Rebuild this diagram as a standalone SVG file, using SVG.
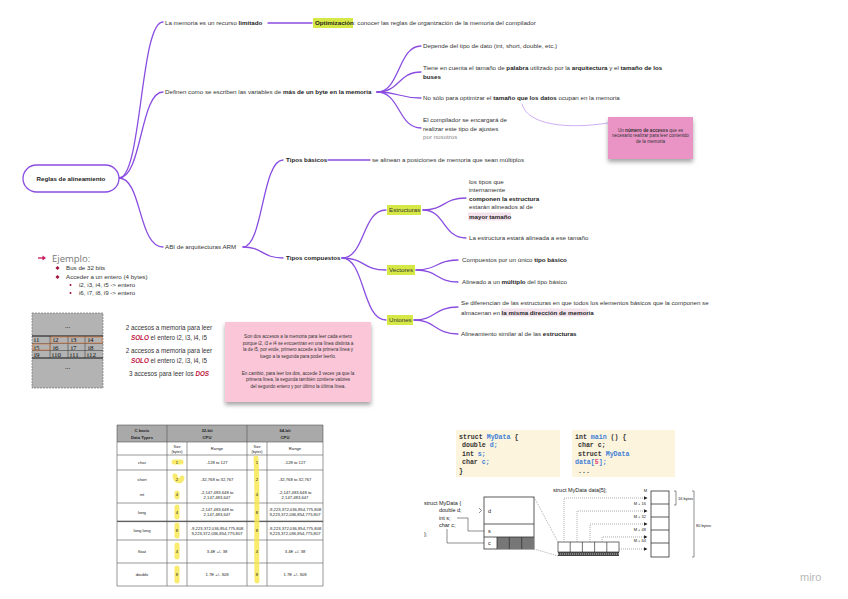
<svg xmlns="http://www.w3.org/2000/svg" width="848" height="599" viewBox="0 0 848 599">
<defs>
<style>
.c{fill:none;stroke:#8a4de0;stroke-width:1.3;stroke-linecap:round}
.cl{fill:none;stroke:#c8a6f0;stroke-width:0.9}
.t{font-family:"Liberation Sans",Arial,sans-serif;font-size:6.2px;fill:#333}
.b{font-weight:bold;fill:#222}
.hl{fill:#d6e845}
.pk{fill:#f3e2ec}
.gr{fill:#888}
.tb{font-family:"Liberation Sans",Arial,sans-serif;font-size:4.2px;fill:#222;text-anchor:middle}
.tl{stroke:#555;stroke-width:0.6;fill:none}
.mono{font-family:"Liberation Mono","DejaVu Sans Mono",monospace;font-size:6.6px;fill:#333;font-weight:bold}
.bl{fill:#3f7fd8}
.sd{font-family:"Liberation Sans",Arial,sans-serif;font-size:5.5px;fill:#222}
.sm{font-family:"Liberation Sans",Arial,sans-serif;font-size:4px;fill:#222}
.dot{fill:none;stroke:#777;stroke-width:0.6;stroke-dasharray:1 1}
.ln{fill:none;stroke:#444;stroke-width:0.6}
.ym{fill:none;stroke:#f6e64a;stroke-width:5;stroke-linecap:round;opacity:0.8}
.cal{font-family:"Liberation Sans",Arial,sans-serif;font-size:6.3px;fill:#333;text-anchor:middle}
.nt{font-family:"Liberation Sans",Arial,sans-serif;font-size:4.6px;fill:#333;text-anchor:middle}
.ser{font-family:"Liberation Serif","Times New Roman",serif;font-size:7px;fill:#111}
</style>
<filter id="sh" x="-20%" y="-20%" width="140%" height="170%"><feDropShadow dx="0" dy="3" stdDeviation="2" flood-color="#000" flood-opacity="0.35"/></filter>
<marker id="ah" markerWidth="4" markerHeight="4" refX="3.5" refY="2" orient="auto" markerUnits="userSpaceOnUse"><path d="M0,0 L4,2 L0,4 z" fill="#222"/></marker>
</defs>
<rect width="848" height="599" fill="#fff"/>

<g id="connectors">
<path class="c" d="M119,178 C142,178 140,22 163,22"/>
<path class="c" d="M119,178 C142,178 140,92 163,92"/>
<path class="c" d="M119,178 C142,178 138,247 163,247"/>
<path class="c" d="M268,23 H312"/>
<path class="c" d="M377,92 C400,92 398,46 421,46"/>
<path class="c" d="M377,92 C400,92 398,72 421,72"/>
<path class="c" d="M377,92 C400,92 398,98 421,98"/>
<path class="c" d="M377,92 C400,92 398,128 421,128"/>
<path class="cl" d="M522,104 C528,126 570,129 608,123"/>
<path class="c" d="M243,247 C263,247 262,160 283,160"/>
<path class="c" d="M243,247 C263,247 262,258 283,258"/>
<path class="c" d="M328,160 H370"/>
<path class="c" d="M342,258 C365,258 362,210 386,210"/>
<path class="c" d="M342,258 C365,258 362,270 386,270"/>
<path class="c" d="M342,258 C365,258 362,320 386,320"/>
<path class="c" d="M423,210 C445,210 443,198 466,198"/>
<path class="c" d="M423,210 C445,210 443,238 466,238"/>
<path class="c" d="M416,270 C438,270 436,260 458,260"/>
<path class="c" d="M416,270 C438,270 436,282 458,282"/>
<path class="c" d="M414,320 C436,320 434,307 458,307"/>
<path class="c" d="M414,320 C436,320 434,334 458,334"/>
</g>

<g id="root">
<rect x="23" y="165" width="96" height="27" rx="13.5" fill="#fff" stroke="#8a4de0" stroke-width="1.3"/>
<text class="t b" x="71" y="180.5" text-anchor="middle">Reglas de alineamiento</text>
</g>

<g id="n-limitado"><text class="t" x="165" y="24.5">La memoria es un recurso <tspan class="b">limitado</tspan></text></g>
<g id="n-optimizacion">
<rect class="hl" x="313" y="18" width="40" height="10"/>
<text class="t" x="315" y="25"><tspan class="b">Optimización</tspan>: conocer las reglas de organización de la memoria del compilador</text>
</g>

<g id="n-definen"><text class="t" x="165" y="94">Definen como se escriben las variables de <tspan class="b">más de un byte en la memoria</tspan></text></g>
<g id="n-depende"><text class="t" x="423" y="48">Depende del tipo de dato (int, short, double, etc.)</text></g>
<g id="n-tiene">
<text class="t" x="423" y="70">Tiene en cuenta el tamaño de <tspan class="b">palabra</tspan> utilizado por la <tspan class="b">arquitectura</tspan> y el <tspan class="b">tamaño de los</tspan></text>
<text class="t b" x="423" y="79">buses</text>
</g>
<g id="n-nosolo"><text class="t" x="423" y="100">No sólo para optimizar el <tspan class="b">tamaño que los datos</tspan> ocupan en la memoria</text></g>
<g id="n-compilador">
<text class="t" x="423" y="122">El compilador se encargará de</text>
<text class="t" x="423" y="130.5">realizar este tipo de ajustes</text>
<text class="t gr" x="423" y="139">por nosotros</text>
</g>
<g id="note-accesos">
<rect x="608" y="117" width="85" height="42" fill="#ea94c6" filter="url(#sh)"/>
<text class="nt" x="650.5" y="131.5">Un <tspan font-weight="bold">número de accesos</tspan> que es</text>
<text class="nt" x="650.5" y="137">necesario realizar para leer contenido</text>
<text class="nt" x="650.5" y="142.5">de la memoria</text>
</g>

<g id="n-abi"><text class="t" x="165" y="249" fill="#666">ABI de arquitecturas ARM</text></g>
<g id="n-basicos"><text class="t b" x="286" y="162">Tipos básicos</text></g>
<g id="n-multiplos"><text class="t" x="372" y="162">se alinean a posiciones de memoria que sean múltiplos</text></g>
<g id="n-compuestos"><text class="t b" x="286" y="260">Tipos compuestos</text></g>

<g id="n-estructuras">
<rect class="hl" x="387" y="205" width="34" height="10"/>
<text class="t" x="389" y="212">Estructuras</text>
</g>
<g id="n-est-a">
<text class="t" x="469" y="184">los tipos que</text>
<text class="t" x="469" y="192">internamente</text>
<text class="t b" x="469" y="201">componen la estructura</text>
<text class="t" x="469" y="209">estarán alineados al de</text>
<rect class="pk" x="468" y="212.5" width="43" height="8"/>
<text class="t b" x="469" y="218.5">mayor tamaño</text>
</g>
<g id="n-est-b"><text class="t" x="469" y="240">La estructura estará alineada a ese tamaño</text></g>

<g id="n-vectores">
<rect class="hl" x="387" y="265" width="28" height="10"/>
<text class="t" x="389" y="272">Vectores</text>
</g>
<g id="n-vec-a"><text class="t" x="462" y="262">Compuestos por un único <tspan class="b">tipo básico</tspan></text></g>
<g id="n-vec-b"><text class="t" x="462" y="284">Alineado a un <tspan class="b">múltiplo</tspan> del tipo básico</text></g>

<g id="n-uniones">
<rect class="hl" x="387" y="315" width="26" height="10"/>
<text class="t" x="389" y="322">Uniones</text>
</g>
<g id="n-uni-a">
<text class="t" x="461" y="305">Se diferencian de las estructuras en que todos los elementos básicos que la componen se</text>
<rect class="pk" x="501" y="308.5" width="87" height="8"/>
<text class="t" x="461" y="314.5">almacenan en <tspan class="b">la misma dirección de memoria</tspan></text>
</g>
<g id="n-uni-b"><text class="t" x="461" y="336">Alineamiento similar al de las <tspan class="b">estructuras</tspan></text></g>

<g id="ejemplo">
<path d="M38,258 H44" stroke="#c2185b" stroke-width="1.3"/>
<path d="M42.5,255.5 L46,258 L42.5,260.5 z" fill="#c2185b"/>
<text x="52" y="261.5" font-family="'Open Sans','Liberation Sans',sans-serif" font-size="9.5" fill="#777">Ejemplo:</text>
<path d="M57.5,266 l2,2 l-2,2 l-2,-2 z" fill="#9e1138"/>
<path d="M57.5,275 l2,2 l-2,2 l-2,-2 z" fill="#9e1138"/>
<text class="t" x="66" y="270" fill="#555">Bus de 32 bits</text>
<text class="t" x="66" y="279" fill="#555">Acceder a un entero (4 bytes)</text>
<circle cx="70.5" cy="285" r="1" fill="#9e1138"/>
<circle cx="70.5" cy="293" r="1" fill="#9e1138"/>
<text class="t" x="79" y="287" font-size="5.3" fill="#555">i2, i3, i4, i5 -&gt; entero</text>
<text class="t" x="79" y="295" font-size="5.3" fill="#555">i6, i7, i8, i9 -&gt; entero</text>
</g>

<g id="grid">
<rect x="32" y="313" width="71" height="75" fill="#b3b3b3" stroke="#777" stroke-width="0.7" stroke-dasharray="2 1"/>
<text class="ser" x="67.5" y="328" text-anchor="middle">...</text>
<path d="M32,336 H103 M32,343.5 H103 M32,350.5 H103 M32,358 H103 M50,336 V358 M68,336 V358 M85,336 V358" stroke="#444" stroke-width="0.6" fill="none"/>
<path d="M32,336 H103 M32,358 H103" stroke="#333" stroke-width="1" fill="none"/>
<g class="ser">
<text x="34" y="342">i1</text><text x="53" y="342">i2</text><text x="71" y="342">i3</text><text x="88" y="342">i4</text>
<text x="34" y="349.5">i5</text><text x="53" y="349.5">i6</text><text x="71" y="349.5">i7</text><text x="88" y="349.5">i8</text>
<text x="34" y="357">i9</text><text x="52" y="357">i10</text><text x="70" y="357">i11</text><text x="87" y="357">i12</text>
</g>
<path d="M51,337 H102 V343 H51 z M33,344 H50 V350 H33 z" fill="none" stroke="#e07a3a" stroke-width="0.7"/>
<text class="ser" x="67.5" y="369" text-anchor="middle">...</text>
</g>

<g id="accesos-text">
<text class="cal" x="169" y="330">2 accesos a memoria para leer</text>
<text class="cal" x="169" y="339.5"><tspan font-weight="bold" font-style="italic" fill="#c0143c">SOLO</tspan> el entero i2, i3, i4, i5</text>
<text class="cal" x="169" y="353">2 accesos a memoria para leer</text>
<text class="cal" x="169" y="362.5"><tspan font-weight="bold" font-style="italic" fill="#c0143c">SOLO</tspan> el entero i2, i3, i4, i5</text>
<text class="cal" x="169" y="376">3 accesos para leer los <tspan font-weight="bold" font-style="italic" fill="#c0143c">DOS</tspan></text>
</g>

<g id="note-explica">
<rect x="225" y="322" width="146" height="80" fill="#fac6d8" filter="url(#sh)"/>
<text class="nt" x="298" y="338">Son dos accesos a la memoria para leer cada entero</text>
<text class="nt" x="298" y="344.5">porque i2, i3 e i4 se encuentran en una línea distinta a</text>
<text class="nt" x="298" y="351">la de i5, por ende, primero accede a la primera línea y</text>
<text class="nt" x="298" y="357.5">luego a la segunda para poder leerlo.</text>
<text class="nt" x="298" y="374.5">En cambio, para leer los dos, accede 3 veces ya que la</text>
<text class="nt" x="298" y="381">primera línea, la segunda también contiene valores</text>
<text class="nt" x="298" y="387.5">del segundo entero y por último la última línea.</text>
</g>

<g id="tabla">
<rect x="117" y="425" width="206" height="17" fill="#a9a9a9"/>
<path class="tl" d="M117,425 H323 M117,442 H323 M117,455 H323 M117,470 H323 M117,503 H323 M117,521 H323 M117,540 H323 M117,563 H323 M117,586 H323"/>
<path class="tl" d="M117,425 V586 M167,425 V586 M247,425 V586 M323,425 V586 M187,442 V586 M267,442 V586"/>
<path d="M117,521.6 H323" stroke="#555" stroke-width="1"/>
<path class="ym" d="M174,462 H181"/>
<path class="ym" d="M175,476 C176,482 181,482 182,478"/>
<path class="ym" d="M177,493 V497"/>
<path class="ym" d="M177,507 V517"/>
<path class="ym" d="M177,525 V536"/>
<path class="ym" d="M177,545 V557"/>
<path class="ym" d="M177,568 V581"/>
<path class="ym" d="M256,458 C258,495 256,540 257,581"/>
<g class="tb" font-weight="bold">
<text x="142" y="432">C basic</text><text x="142" y="438.5">Data Types</text>
<text x="207" y="432">32-bit</text><text x="207" y="438.5">CPU</text>
<text x="285" y="432">64-bit</text><text x="285" y="438.5">CPU</text>
</g>
<g class="tb">
<text x="177" y="447.5" font-size="3.6">Size</text><text x="177" y="452.5" font-size="3.6">(bytes)</text>
<text x="217" y="450">Range</text>
<text x="257" y="447.5" font-size="3.6">Size</text><text x="257" y="452.5" font-size="3.6">(bytes)</text>
<text x="295" y="450">Range</text>
<text x="142" y="464">char</text><text x="177" y="464">1</text><text x="217" y="464">-128 to 127</text><text x="257" y="464">1</text><text x="295" y="464">-128 to 127</text>
<text x="142" y="480.5">short</text><text x="177" y="480.5">2</text><text x="217" y="480.5">-32,768 to 32,767</text><text x="257" y="480.5">2</text><text x="295" y="480.5">-32,768 to 32,767</text>
<text x="142" y="496">int</text><text x="177" y="496">4</text><text x="217" y="493.5">-2,147,483,648 to</text><text x="217" y="498.5">2,147,483,647</text><text x="257" y="496">4</text><text x="295" y="493.5">-2,147,483,648 to</text><text x="295" y="498.5">2,147,483,647</text>
<text x="142" y="513.5">long</text><text x="177" y="513.5">4</text><text x="217" y="511">-2,147,483,648 to</text><text x="217" y="516">2,147,483,647</text><text x="257" y="513.5">8</text><text x="295" y="511">-9,223,372,036,854,775,808</text><text x="295" y="516">9,223,372,036,854,775,807</text>
<text x="142" y="532">long long</text><text x="177" y="532">8</text><text x="217" y="529.5">-9,223,372,036,854,775,808</text><text x="217" y="534.5">9,223,372,036,854,775,807</text><text x="257" y="532">8</text><text x="295" y="529.5">-9,223,372,036,854,775,808</text><text x="295" y="534.5">9,223,372,036,854,775,807</text>
<text x="142" y="553">float</text><text x="177" y="553">4</text><text x="217" y="553">3.4E +/- 38</text><text x="257" y="553">4</text><text x="295" y="553">3.4E +/- 38</text>
<text x="142" y="576">double</text><text x="177" y="576">8</text><text x="217" y="576">1.7E +/- 308</text><text x="257" y="576">8</text><text x="295" y="576">1.7E +/- 308</text>
</g>
</g>

<g id="code-struct">
<rect x="456" y="430" width="104" height="47" fill="#fcf4dd"/>
<text class="mono" x="459" y="438.5">struct <tspan class="bl">MyData</tspan> {</text>
<text class="mono" x="462" y="447">double <tspan class="bl">d;</tspan></text>
<text class="mono" x="462" y="455.5">int <tspan class="bl">s;</tspan></text>
<text class="mono" x="462" y="464">char <tspan class="bl">c;</tspan></text>
<text class="mono" x="459" y="472.5">}</text>
</g>
<g id="code-main">
<rect x="572" y="430" width="103" height="47" fill="#fcf4dd"/>
<text class="mono" x="575" y="438.5">int <tspan class="bl">main</tspan> () {</text>
<text class="mono" x="578" y="447">char c;</text>
<text class="mono" x="578" y="455.5">struct <tspan class="bl">MyData</tspan></text>
<text class="mono" x="575" y="464"><tspan class="bl">data[</tspan><tspan fill="#e0407a">5</tspan><tspan class="bl">];</tspan></text>
<text class="mono" x="578" y="472.5">...</text>
</g>

<g id="struct-diagram">
<text class="sd" x="424" y="505">struct MyData {</text>
<text class="sd" x="439" y="512">double d;</text>
<text class="sd" x="439" y="519.5">int s;</text>
<text class="sd" x="439" y="527">char c;</text>
<text class="sd" x="424" y="536">};</text>
<path class="ln" d="M457,518 H468 V531 H484 M447,529 V543 H484"/>
<path class="ln" d="M479,508 L481.5,510.5 L479,513"/>
<rect x="484" y="497" width="50" height="52" fill="#fff" stroke="#333" stroke-width="0.8"/>
<rect x="497" y="537" width="37" height="12" fill="#777"/>
<path d="M484,524 H534 M484,537 H534 M497,537 V549 M509.3,537 V549 M521.7,537 V549" stroke="#333" stroke-width="0.8" fill="none"/>
<text class="sd" x="488" y="512.5">d</text>
<text class="sd" x="488" y="532.5">s</text>
<text class="sd" x="488" y="545">c</text>
<path class="dot" d="M534,497 L558,542 M534,549 L558,556"/>
<text class="sd" x="553" y="491.5">struct MyData data[5];</text>
<rect x="558" y="542" width="61" height="10" fill="#fff" stroke="#333" stroke-width="0.7"/>
<path d="M570.2,542 V552 M582.4,542 V552 M594.6,542 V552 M606.8,542 V552" stroke="#333" stroke-width="0.7"/>
<rect x="558" y="552" width="61" height="4" fill="#444"/>
<path d="M558,554 H619" stroke="#ddd" stroke-width="0.8" stroke-dasharray="1.2 0.8"/>
<path class="dot" d="M564,542 V498 H647" marker-end="url(#ah)"/>
<path class="dot" d="M577,542 V511 H647" marker-end="url(#ah)"/>
<path class="dot" d="M590,542 V524 H647" marker-end="url(#ah)"/>
<path class="dot" d="M602,542 V537 H647" marker-end="url(#ah)"/>
<path class="dot" d="M619,549 H647" marker-end="url(#ah)"/>
<rect x="651" y="491" width="18" height="66" fill="#fff" stroke="#333" stroke-width="0.8"/>
<path d="M651,504 H669 M651,517 H669 M651,530 H669 M651,543 H669" stroke="#333" stroke-width="0.8"/>
<text class="sm" x="647" y="492" text-anchor="end">M</text>
<text class="sm" x="646" y="504.5" text-anchor="end">M + 16</text>
<text class="sm" x="646" y="517.5" text-anchor="end">M + 32</text>
<text class="sm" x="646" y="531" text-anchor="end">M + 48</text>
<text class="sm" x="646" y="542" text-anchor="end">M + 64</text>
<path class="ln" d="M674,491 H676 V505 H674 M692,491 H694 V557 H692"/>
<text class="sm" x="678" y="499.5">16 bytes</text>
<text class="sm" x="696" y="526.5">80 bytes</text>
</g>

<text x="800" y="581" font-family="'Liberation Sans',Arial,sans-serif" font-size="11" fill="#b8b8b8">miro</text>
</svg>
